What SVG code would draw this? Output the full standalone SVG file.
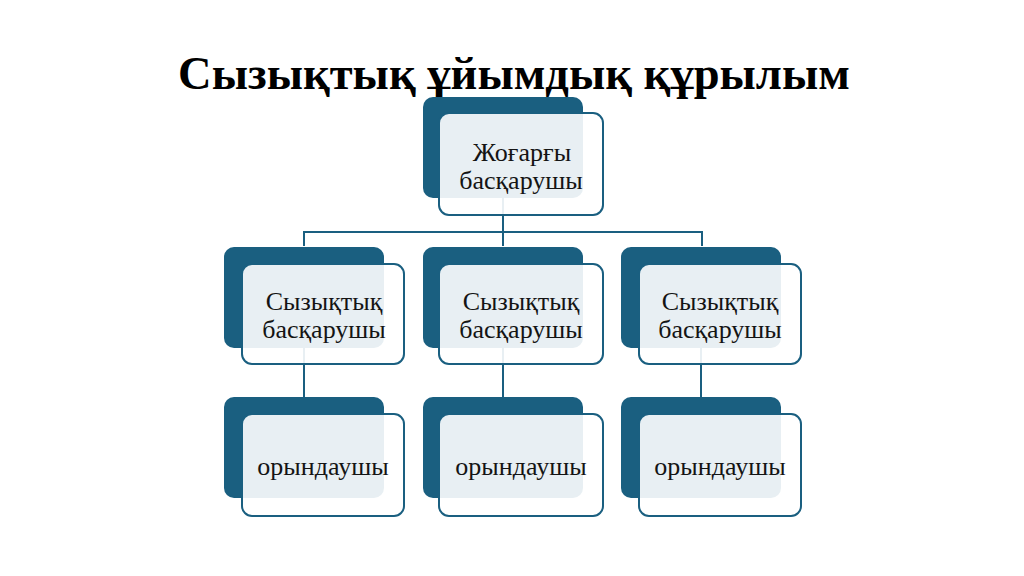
<svg xmlns="http://www.w3.org/2000/svg" width="1024" height="576" viewBox="0 0 1024 576">
<style>
.dark{fill:#1a5f80}
.box{fill:#ffffff;fill-opacity:0.9;stroke:#1a5f80;stroke-width:2}
.lbl{font-family:"Liberation Serif","Times New Roman",serif;font-size:26px;fill:#141414;text-anchor:middle}
.title{font-family:"Liberation Serif","Times New Roman",serif;font-size:46.5px;font-weight:bold;fill:#000;text-anchor:middle}
.conn{stroke:#1a5f80;stroke-width:2;fill:none}
</style>
<rect width="1024" height="576" fill="#ffffff"/>
<text class="title" x="514" y="89">Сызықтық ұйымдық құрылым</text>
<g id="connectors">
<path class="conn" d="M503 197V232M304 246V232H702V246M503 232V246"/>
<path class="conn" d="M304 348V397M503 348V397M701 348V397"/>
</g>
<g id="top">
<rect class="dark" x="423" y="97" width="160" height="101" rx="10"/>
<rect class="box" x="439" y="113" width="164" height="102" rx="10"/>
<text class="lbl" x="522" y="161">Жоғарғы</text>
<text class="lbl" x="521" y="189">басқарушы</text>
</g>
<g id="mid1">
<rect class="dark" x="224" y="247" width="160" height="101" rx="10"/>
<rect class="box" x="242" y="264" width="162" height="100" rx="10"/>
<text class="lbl" x="324" y="310">Сызықтық</text>
<text class="lbl" x="324" y="338">басқарушы</text>
</g>
<g id="mid2">
<rect class="dark" x="423" y="247" width="160" height="101" rx="10"/>
<rect class="box" x="439" y="264" width="164" height="100" rx="10"/>
<text class="lbl" x="521" y="310">Сызықтық</text>
<text class="lbl" x="521" y="338">басқарушы</text>
</g>
<g id="mid3">
<rect class="dark" x="621" y="247" width="160" height="101" rx="10"/>
<rect class="box" x="639" y="264" width="162" height="100" rx="10"/>
<text class="lbl" x="720" y="310">Сызықтық</text>
<text class="lbl" x="720" y="338">басқарушы</text>
</g>
<g id="bot1">
<rect class="dark" x="224" y="397" width="160" height="101" rx="10"/>
<rect class="box" x="242" y="414" width="162" height="102" rx="10"/>
<text class="lbl" x="323" y="475">орындаушы</text>
</g>
<g id="bot2">
<rect class="dark" x="423" y="397" width="160" height="101" rx="10"/>
<rect class="box" x="439" y="414" width="164" height="102" rx="10"/>
<text class="lbl" x="521" y="475">орындаушы</text>
</g>
<g id="bot3">
<rect class="dark" x="621" y="397" width="160" height="101" rx="10"/>
<rect class="box" x="639" y="414" width="162" height="102" rx="10"/>
<text class="lbl" x="720" y="475">орындаушы</text>
</g>
</svg>
